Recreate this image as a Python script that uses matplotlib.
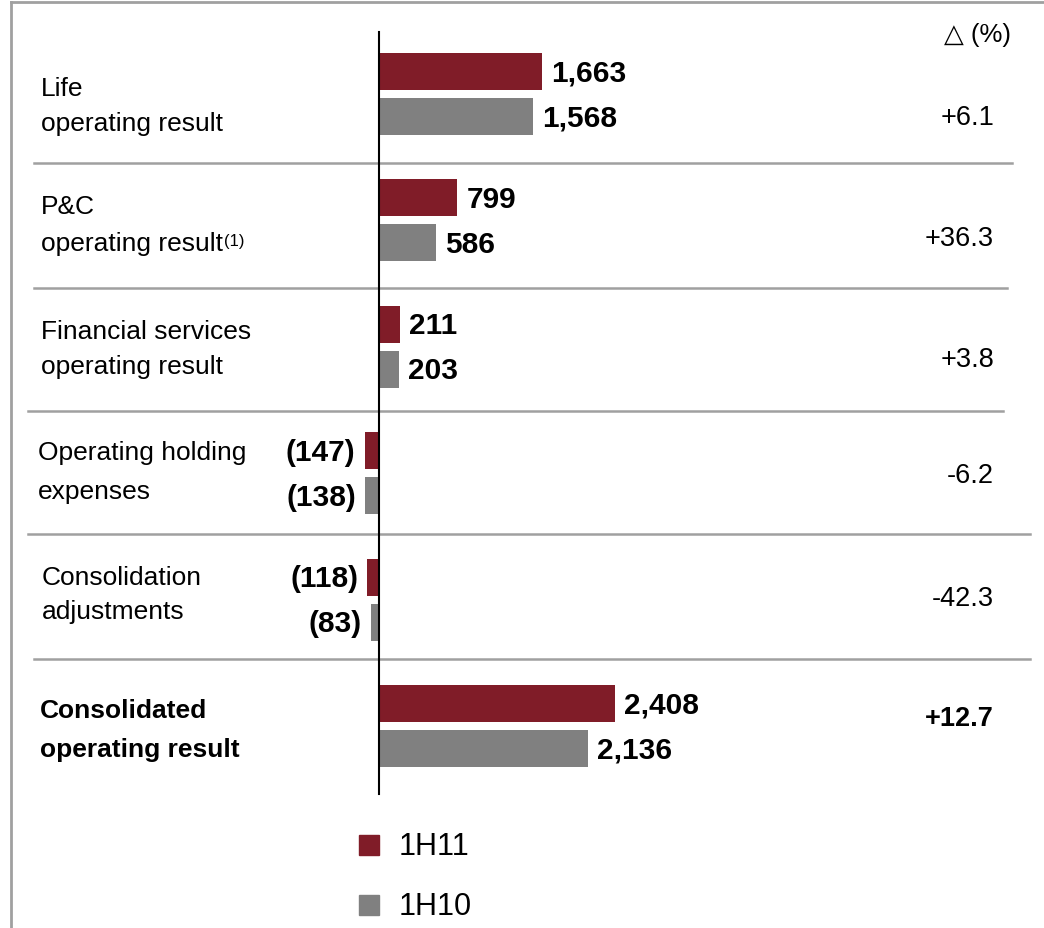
import matplotlib
matplotlib.use("Agg")
import matplotlib.pyplot as plt

plt.rcParams['font.family'] = ['Liberation Sans', 'DejaVu Sans']

# ---- data ----
categories = ["Life\noperating result", "P&C\noperating result",
              "Financial services\noperating result", "Operating holding\nexpenses",
              "Consolidation\nadjustments", "Consolidated\noperating result"]
values_1h11 = [1663, 799, 211, -147, -118, 2408]
values_1h10 = [1568, 586, 203, -138, -83, 2136]
delta_pct = ["+6.1", "+36.3", "+3.8", "-6.2", "-42.3", "+12.7"]
series_names = ["1H11", "1H10"]

RED = "#801C28"
GRAY = "#808080"
SEP = "#A0A0A0"

W, H = 1044, 929
fig = plt.figure(figsize=(W / 100, H / 100), dpi=100)
ax = fig.add_axes([0, 0, 1, 1])
scale = 0.098  # px per unit
x0 = 379
ax.set_xlim(-x0 / scale, (W - x0) / scale)
ax.set_ylim(H, 0)
ax.axis("off")

def px(x):
    return (x - x0) / scale

row_c = [95 + i * 126.4 for i in range(len(categories))]
bh = 37
off = 22.5
ax.barh([c - off for c in row_c], values_1h11, height=bh, color=RED, zorder=3)
ax.barh([c + off for c in row_c], values_1h10, height=bh, color=GRAY, zorder=3)

# zero axis
ax.plot([0, 0], [33, 795], color="black", lw=1.5, zorder=4)

# value labels
def fmt(v):
    return f"{v:,}" if v >= 0 else f"({abs(v):,})"

pad = 9 / scale
for i, (a, b) in enumerate(zip(values_1h11, values_1h10)):
    for v, yc in ((a, row_c[i] - off), (b, row_c[i] + off)):
        if v >= 0:
            ax.text(v + pad, yc + 1, fmt(v), ha="left", va="center",
                    fontsize=21.5, fontweight="bold", zorder=5)
        else:
            ax.text(v - pad, yc + 1, fmt(v), ha="right", va="center",
                    fontsize=21.5, fontweight="bold", zorder=5)

# category labels
label_x = [41, 41, 41, 38, 42, 40]
label_dy = [11.5, 4, 2, -1.5, -6, 3.5]
label_ls = [1.53, 1.68, 1.56, 1.8, 1.53, 1.8]
for i, cat in enumerate(categories):
    bold = (i == len(categories) - 1)
    t = ax.text(px(label_x[i]), row_c[i] + label_dy[i], cat, ha="left", va="center",
                fontsize=19, fontweight="bold" if bold else "normal",
                linespacing=label_ls[i])
    if i == 1:
        ax.annotate("(1)", xy=(1, 0), xycoords=t, xytext=(1, 5),
                    textcoords="offset points", fontsize=12, ha="left", va="bottom")

# delta labels
delta_dy = [23, 18, 12, 2, -2, -8]
for i, d in enumerate(delta_pct):
    bold = (i == len(delta_pct) - 1)
    ax.text(px(994), row_c[i] + delta_dy[i], d, ha="right", va="center",
            fontsize=19.5, fontweight="bold" if bold else "normal")
ax.text(px(1011), 35, "△ (%)", ha="right", va="center", fontsize=18.5,
        family=["Liberation Sans", "DejaVu Sans"])

# separators
seps = [(164, 34, 1012), (289, 34, 1007), (412, 28, 1003), (535, 28, 1030), (660, 34, 1030)]
for y, xa, xb in seps:
    ax.plot([px(xa), px(xb)], [y, y], color=SEP, lw=1.8, zorder=2)

# frame
ax.plot([px(11), px(W)], [3, 3], color=SEP, lw=2, zorder=2, clip_on=False)
ax.plot([px(11), px(11)], [3, H], color=SEP, lw=2, zorder=2, clip_on=False)

# legend
for name, col, yy in ((series_names[0], RED, 846), (series_names[1], GRAY, 906)):
    ax.plot([px(369)], [yy], marker="s", markersize=15, color=col, linestyle="none")
    ax.text(px(399), yy + 1, name, ha="left", va="center", fontsize=22)

fig.savefig("out.png", dpi=100)
